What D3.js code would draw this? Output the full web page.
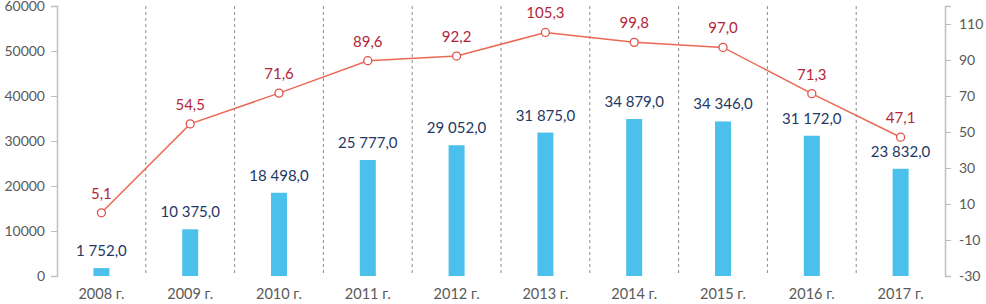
<!DOCTYPE html>
<html>
<head>
<meta charset="utf-8">
<script src="https://cdn.jsdelivr.net/npm/d3@7"></script>
<style>
  body { margin: 0; background: #fff; }
  svg text { font-family: Lato, "Open Sans", sans-serif; }
</style>
</head>
<body>
<div id="chart"></div>
<script>
// chart data
const years = ["2008 г.", "2009 г.", "2010 г.", "2011 г.", "2012 г.", "2013 г.", "2014 г.", "2015 г.", "2016 г.", "2017 г."];
const volumes = [1752, 10375, 18498, 25777, 29052, 31875, 34879, 34346, 31172, 23832];
const rates = [5.1, 54.5, 71.6, 89.6, 92.2, 105.3, 99.8, 97.0, 71.3, 47.1];
const leftTicks = [0, 10000, 20000, 30000, 40000, 50000, 60000];
const rightTicks = [-30, -10, 10, 30, 50, 70, 90, 110];

const W = 986, H = 304;
const margin = {top: 6, right: 41, bottom: 28, left: 57};
const width = W - margin.left - margin.right;
const height = H - margin.top - margin.bottom;

const svg = d3.select("#chart").append("svg")
    .attr("width", W)
    .attr("height", H)
    .append("g")
    .attr("transform", "translate(" + margin.left + "," + margin.top + ")");

const x = d3.scaleBand().domain(years).range([0, width]);
const yL = d3.scaleLinear().domain([0, 60000]).range([height, 0]);
const yR = d3.scaleLinear().domain([-30, 120]).range([height, 0]);

const fmt = v => {
    let s = v.toFixed(1).replace(".", ",");
    let [a, b] = s.split(",");
    a = a.replace(/\B(?=(\d{3})+(?!\d))/g, " ");
    return a + "," + b;
};

// dashed separators between years
svg.append("g")
    .selectAll("line")
    .data(years.slice(1))
    .join("line")
    .attr("x1", d => x(d))
    .attr("x2", d => x(d))
    .attr("y1", 0)
    .attr("y2", height)
    .attr("stroke", "#8a8a8a")
    .attr("stroke-width", 1)
    .attr("stroke-dasharray", "3,3");

// axes
const leftAxis = svg.append("g")
    .call(d3.axisLeft(yL).tickValues(leftTicks).tickSize(6).tickPadding(6).tickFormat(d => String(d)));
const rightAxis = svg.append("g")
    .attr("transform", "translate(" + width + ",0)")
    .call(d3.axisRight(yR).tickValues(rightTicks).tickSize(6).tickPadding(8).tickFormat(d => String(d)));

[leftAxis, rightAxis].forEach(g => {
    g.select(".domain").attr("stroke", "#bfbfbf").attr("stroke-width", 1.5);
    g.selectAll(".tick line").attr("stroke", "#bfbfbf");
    g.selectAll(".tick text").attr("fill", "#595959").attr("font-size", 14)
        .style("font-family", "Lato, 'Open Sans', sans-serif");
});

const xAxis = svg.append("g")
    .attr("transform", "translate(0," + height + ")")
    .call(d3.axisBottom(x).tickSize(0).tickPadding(13));
xAxis.select(".domain").remove();
xAxis.selectAll(".tick text").attr("fill", "#595959").attr("font-size", 14.5)
    .style("font-family", "Lato, 'Open Sans', sans-serif");

// bars
const barW = 16;
svg.append("g")
    .selectAll("rect")
    .data(volumes)
    .join("rect")
    .attr("x", (d, i) => x(years[i]) + x.bandwidth() / 2 - barW / 2)
    .attr("y", d => yL(d))
    .attr("width", barW)
    .attr("height", d => height - yL(d))
    .attr("fill", "#4bc0ec");

svg.append("g")
    .selectAll("text")
    .data(volumes)
    .join("text")
    .attr("x", (d, i) => x(years[i]) + x.bandwidth() / 2)
    .attr("y", d => yL(d) - 12)
    .attr("text-anchor", "middle")
    .attr("font-size", 15)
    .attr("fill", "#1f3864")
    .text(d => fmt(d));

// line
const line = d3.line()
    .x((d, i) => x(years[i]) + x.bandwidth() / 2)
    .y(d => yR(d));

svg.append("path")
    .datum(rates)
    .attr("d", line)
    .attr("fill", "none")
    .attr("stroke", "#ea6a55")
    .attr("stroke-width", 1.5);

svg.append("g")
    .selectAll("circle")
    .data(rates)
    .join("circle")
    .attr("cx", (d, i) => x(years[i]) + x.bandwidth() / 2)
    .attr("cy", d => yR(d))
    .attr("r", 4)
    .attr("fill", "#fff")
    .attr("stroke", "#e0524a")
    .attr("stroke-width", 1.3);

svg.append("g")
    .selectAll("text")
    .data(rates)
    .join("text")
    .attr("x", (d, i) => x(years[i]) + x.bandwidth() / 2)
    .attr("y", d => yR(d) - 14)
    .attr("text-anchor", "middle")
    .attr("font-size", 15)
    .attr("fill", "#b3263a")
    .text(d => fmt(d));
</script>
</body>
</html>
